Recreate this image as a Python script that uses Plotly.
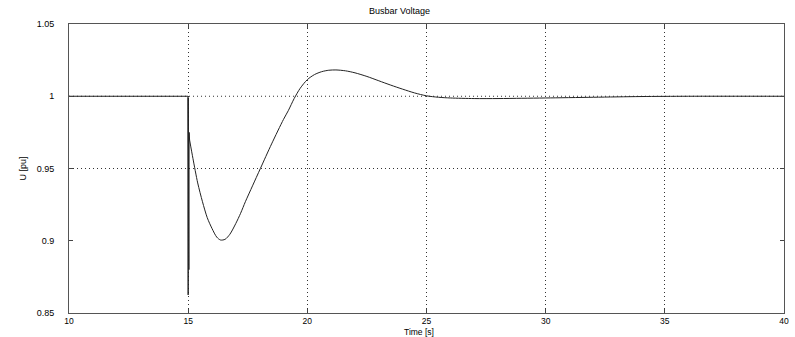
import plotly.graph_objects as go

# Data
time_s = [10.0, 14.99, 15.0, 15.005, 15.01, 15.015, 15.02, 15.025, 15.03, 15.04, 15.06,
          15.2, 15.4, 15.6, 15.8, 16.0, 16.2, 16.36, 16.55, 16.75, 17.0, 17.2, 17.4, 17.7,
          18.03, 18.5, 19.0, 19.2, 19.45, 19.7, 20.0, 20.3, 20.6, 20.9, 21.2, 21.6, 22.0,
          22.5, 23.0, 23.5, 24.0, 24.5, 25.0, 25.5, 26.0, 27.0, 28.0, 29.0, 30.0, 32.0,
          34.0, 36.0, 40.0]
voltage_pu = [1.0, 1.0, 0.8625, 0.999, 0.868, 0.99, 0.875, 0.985, 0.88, 0.975, 0.9697,
              0.957, 0.940, 0.927, 0.916, 0.9085, 0.9025, 0.9005, 0.901, 0.9045, 0.912, 0.919,
              0.927, 0.938, 0.950, 0.967, 0.984, 0.990, 0.9985, 1.0055, 1.0115, 1.0150, 1.0170,
              1.0180, 1.0182, 1.0176, 1.0162, 1.0137, 1.0107, 1.0077, 1.0049, 1.0023, 1.0003,
              0.9993, 0.9988, 0.9984, 0.9984, 0.9986, 0.9988, 0.9993, 0.9998, 1.0, 1.0]

x_ticks = [10, 15, 20, 25, 30, 35, 40]
y_ticks = [0.85, 0.9, 0.95, 1.0, 1.05]
y_tick_text = ["0.85", "0.9", "0.95", "1", "1.05"]
y_grid = [0.95, 1.0]

FONT = "Liberation Sans, Arial, sans-serif"
GRID_DASH = "1px,3px"

# the fault transient (index < SPLIT) is drawn straight, the recovery smoothly
SPLIT = 10

fig = go.Figure()
fig.add_trace(go.Scatter(x=time_s[:SPLIT + 1], y=voltage_pu[:SPLIT + 1], mode="lines",
                         line=dict(color="#222", width=1), showlegend=False))
fig.add_trace(go.Scatter(x=time_s[SPLIT:], y=voltage_pu[SPLIT:], mode="lines",
                         line=dict(color="#222", width=1, shape="spline", smoothing=0.8),
                         showlegend=False))

for gy in y_grid:
    fig.add_shape(type="line", xref="paper", x0=0, x1=1, yref="y", y0=gy, y1=gy,
                  line=dict(color="#333", width=1, dash=GRID_DASH), layer="below")

fig.update_layout(
    width=795, height=337,
    margin=dict(l=69, r=6, t=24, b=24),
    paper_bgcolor="white", plot_bgcolor="white",
    font=dict(family=FONT, size=9, color="black"),
    xaxis=dict(range=[10, 40], tickvals=x_ticks, ticks="inside", ticklen=4,
               tickcolor="#444", showline=True, linecolor="#555", linewidth=1,
               mirror="ticks", showgrid=True, gridcolor="#333", griddash=GRID_DASH,
               gridwidth=1, zeroline=False, ticklabelstandoff=0,
               tickfont=dict(size=8.5, family=FONT)),
    yaxis=dict(range=[0.85, 1.05], tickvals=y_ticks, ticktext=y_tick_text,
               ticks="inside", ticklen=4, tickcolor="#444", showline=True,
               linecolor="#555", linewidth=1, mirror="ticks", showgrid=False,
               zeroline=False, ticklabelstandoff=12,
               tickfont=dict(size=9, family=FONT)),
    annotations=[
        dict(text="Busbar Voltage", xref="paper", yref="paper", x=0.462, y=1,
             yshift=13, yanchor="middle", showarrow=False, font=dict(size=9, family=FONT)),
        dict(text="Time [s]", xref="paper", yref="paper", x=0.489, y=0,
             yshift=-18.5, yanchor="middle", showarrow=False, font=dict(size=8.5, family=FONT)),
        dict(text="U [pu]", xref="paper", yref="paper", x=0, y=0.5,
             xshift=-54, textangle=-90, showarrow=False, font=dict(size=9, family=FONT)),
    ],
)

fig.write_html("out.html")
